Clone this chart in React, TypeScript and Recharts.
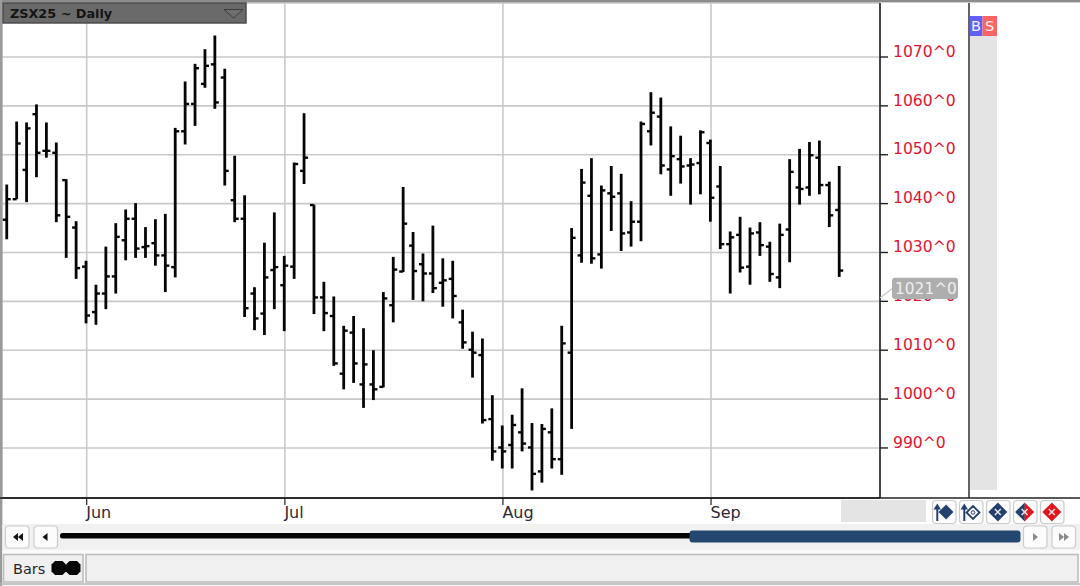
import React from "react";
import { ComposedChart, Bar, XAxis, YAxis, CartesianGrid } from "recharts";

const opens = [1036.7,1040.9,1046.9,1058.3,1050.8,1050.4,1044.8,1035.1,1027.1,1017.8,1021.6,1025.1,1032.5,1036.9,1031.1,1031.9,1029.4,1027,1054.8,1060.4,1064.5,1068.5,1065.8,1040.7,1036.9,1021.6,1017.5,1026.4,1023.3,1027.1,1046.7,1039.7,1020.8,1017,1005.2,1013.6,1003,1003,1002.5,1019.2,1026.1,1031.4,1027.6,1025.7,1023.8,1024.6,1015.7,1010.1,1009,995.9,990.1,990.6,993.2,990.1,985.2,993.2,987.7,1009.5,1029.4,1041.6,1029.6,1042.1,1042.1,1034.1,1036.3,1054.8,1057.8,1047,1049.1,1047.8,1048.3,1052.4,1043.5,1031.7,1033.6,1027.1,1034.1,1031.2,1024.9,1034.7,1043.3,1043.3,1049.4,1043.8,1038.7];
const highs = [1043.9,1056.8,1056.6,1060.3,1056.6,1052.5,1045,1036.4,1028.3,1023.4,1031.2,1036,1038.8,1040.1,1035.2,1036.8,1037.9,1055.5,1065,1068.6,1071.6,1074.4,1067.6,1049.8,1041.7,1022.9,1032,1038.2,1029.3,1048.4,1058.5,1039.8,1024,1021,1015,1017,1014.5,1010,1021.9,1029.1,1043.4,1034.2,1029.8,1035.5,1028.8,1028.3,1018.3,1013.8,1012.4,1000.8,994.6,996.8,1002.2,995.1,994.9,998.1,1015,1035,1047.1,1049.3,1043.7,1047.7,1046.1,1040.5,1056.8,1062.8,1061.7,1055.8,1053.9,1049.3,1055,1053.1,1047.7,1034.3,1037.3,1035.1,1036.2,1032.2,1035.9,1049.1,1051.2,1052.6,1052.9,1044.5,1047.7];
const lows = [1032.7,1040.9,1040.3,1045.4,1049.4,1036.2,1028.9,1024.6,1015.5,1015.2,1018.4,1021.6,1028.4,1028.9,1028.9,1027.3,1021.9,1024.9,1052.1,1055.9,1063.7,1059.4,1043.7,1036.2,1016.8,1014.1,1013.1,1018.4,1013.9,1024.6,1044,1017.4,1013.9,1006.8,1002,1003.3,998.2,999.8,1002.4,1015.7,1026,1020.3,1020,1021.7,1018.9,1016.5,1010.3,1004.4,995,987.4,985.8,985.8,989.3,981.3,982.9,985.8,984.5,993.9,1027.9,1027.7,1026.7,1034.4,1030.3,1031.2,1032.3,1051.9,1046,1041.6,1044.1,1039.8,1041.9,1036.3,1030.7,1021.6,1025.9,1023.4,1029.3,1024,1022.7,1028,1039.8,1041.6,1041.9,1035.2,1025];
const closes = [1040.9,1052.3,1055.4,1050.4,1050.8,1037.6,1037.3,1026.8,1017.1,1021.6,1025.1,1033.2,1036.9,1030.8,1031.3,1029.4,1027.3,1054.8,1060.4,1067.7,1068.2,1060.7,1046.7,1036.9,1018.6,1016.5,1024.9,1027,1027.3,1048.1,1049.4,1020.8,1017.6,1007.3,1014,1007.3,1007.1,1002,1020.6,1026.5,1035.9,1026.2,1025.7,1022.7,1024.3,1021.1,1011.6,1009.5,995.7,989.3,989.3,994.7,990.9,984.7,993.9,987.7,1011.4,1033,1044.3,1028.8,1042.7,1041.4,1033.9,1036.3,1056.3,1058.6,1047.8,1049.7,1047.6,1048,1054.6,1041.2,1031.7,1033.1,1026.9,1033.9,1031.5,1025.6,1033.6,1046.5,1043,1049.9,1043.8,1037.6,1026.3];
const monthTicks = [8, 28, 50, 71];
const monthLabels = ["Jun", "Jul", "Aug", "Sep"];
const priceTicks = [990, 1000, 1010, 1020, 1030, 1040, 1050, 1060, 1070];
const lastPrice = "1021^0";
const title = "ZSX25 ~ Daily";

const rows = opens.map((open, index) => ({ index, open, high: highs[index], low: lows[index], close: closes[index] }));
const FONT = "'DejaVu Sans', sans-serif";

function OhlcShape(props: any) {
  const { x, y, width, height, payload } = props;
  const top = Math.min(y, y + height);
  const span = Math.abs(height);
  const k = span / (payload.high - payload.low);
  const cx = x + width / 2 - 0.7;
  const oy = top + (payload.high - payload.open) * k;
  const cy = top + (payload.high - payload.close) * k;
  return (
    <g>
      <line x1={cx} x2={cx} y1={top} y2={top + span} stroke="#050505" strokeWidth={2.8} />
      <line x1={cx - 4} x2={cx} y1={oy} y2={oy} stroke="#050505" strokeWidth={2.4} />
      <line x1={cx} x2={cx + 4} y1={cy} y2={cy} stroke="#050505" strokeWidth={2.4} />
    </g>
  );
}

function MonthTick(props: any) {
  const { x, index } = props;
  return (
    <g>
      <line x1={x} x2={x} y1={498} y2={505} stroke="#333" strokeWidth={1.3} />
      <text x={x - 0.5} y={518} fontFamily={FONT} fontSize={16} fill="#2a2a33">{monthLabels[index]}</text>
    </g>
  );
}

function PriceTick(props: any) {
  const { x, y, payload } = props;
  return (
    <text x={x} y={y - 0.3} fontFamily={FONT} fontSize={15.6} fill="#e3142f">{`${payload.value}^0`}</text>
  );
}

function Btn({ x, y, w, h }: any) {
  return <rect x={x} y={y} width={w} height={h} rx={3.5} fill="#fcfcfc" stroke="#cbcbcb" strokeWidth={1.2} />;
}

function Diamond({ cx, cy, r, left, right, cross }: any) {
  return (
    <g>
      <path d={`M${cx + 0.2} ${cy - r}L${cx + 0.2} ${cy + r}L${cx - r} ${cy}Z`} fill={left} />
      <path d={`M${cx} ${cy - r}L${cx} ${cy + r}L${cx + r} ${cy}Z`} fill={right} />
      {cross && <path d={`M${cx - 3} ${cy - 3}L${cx + 3} ${cy + 3}M${cx + 3} ${cy - 3}L${cx - 3} ${cy + 3}`} stroke="#e8e8e8" strokeWidth={1.5} />}
    </g>
  );
}

function Overlay() {
  const navy = "#24406e";
  const red = "#e2161c";
  return (
    <svg width={1080} height={586} style={{ position: "absolute", left: 0, top: 0 }}>
      {/* frame */}
      <rect x={0} y={0} width={1080} height={2.4} fill="#8c8c8c" />
      <rect x={0} y={0} width={2.4} height={586} fill="#9a9a9a" />
      <line x1={0} x2={1080} y1={498} y2={498} stroke="#222" strokeWidth={1.4} />
      <line x1={969} x2={969} y1={3} y2={498} stroke="#222" strokeWidth={1.4} />
      {/* title */}
      <rect x={3} y={3} width={243} height={20} fill="#626262" fillOpacity={0.95} stroke="#474747" strokeWidth={1.4} />
      <text x={10} y={18} fontFamily={FONT} fontWeight={700} fontSize={12.8} fill="#141414">{title}</text>
      <path d="M224 9.5H243L233.5 18Z" fill="#6e6e6e" stroke="#3c3c3c" strokeWidth={1} />
      {/* B/S panel */}
      <rect x={970} y={36} width={27} height={454} fill="#e4e4e4" />
      <rect x={970} y={16} width={12.5} height={20} fill="#6060f8" />
      <rect x={982.5} y={16} width={14.5} height={20} fill="#fb6464" />
      <text x={976} y={31} textAnchor="middle" fontFamily={FONT} fontSize={14.5} fill="#f4f4ff">B</text>
      <text x={989.5} y={31} textAnchor="middle" fontFamily={FONT} fontSize={14.5} fill="#fff4f4">S</text>
      {/* last price */}
      <line x1={880} x2={893} y1={298} y2={288} stroke="#c8c8c8" strokeWidth={1.2} />
      <rect x={892} y={277.7} width={66} height={21.3} rx={3} fill="#aeaeae" />
      <text x={895} y={294} fontFamily={FONT} fontSize={15.4} fill="#efefef">{lastPrice}</text>
      {/* bottom toolbar */}
      <rect x={841} y={500} width={85} height={22} fill="#e4e4e4" />
      {[932.5, 959.5, 986.5, 1013.5, 1040.5].map((x) => <Btn key={x} x={x} y={500.5} w={23.5} h={23} />)}
      <path d="M937.3 508V521" stroke={navy} strokeWidth={2} />
      <path d="M933.5 509.5L937.3 503.5L941 509.5Z" fill={navy} />
      <Diamond cx={946} cy={512} r={7.5} left={navy} right={navy} />
      <path d="M964.3 508V521" stroke={navy} strokeWidth={2} />
      <path d="M960.5 509.5L964.3 503.5L968 509.5Z" fill={navy} />
      <path d="M973 506L979.5 512.5L973 519L966.5 512.5Z" fill="#fcfcfc" stroke={navy} strokeWidth={1.8} />
      <circle cx={973} cy={512.5} r={1.8} fill="none" stroke={navy} strokeWidth={1} />
      <Diamond cx={997.8} cy={512} r={9.5} left={navy} right={navy} cross />
      <Diamond cx={1024.6} cy={512} r={9.5} left={navy} right={red} cross />
      <Diamond cx={1051.8} cy={512} r={9.5} left={red} right={red} cross />
      {/* scroll row */}
      <rect x={2.4} y={524} width={1077.6} height={26} fill="#f1f1f1" />
      <Btn x={5.5} y={526} w={23.5} h={22} />
      <Btn x={34} y={526} w={23.5} h={22} />
      <path d="M18 533L13 537L18 541ZM23 533L18 537L23 541Z" fill="#111" />
      <path d="M47.5 533L42.5 537L47.5 541Z" fill="#111" />
      <rect x={60} y={533} width={632} height={5.5} rx={2.5} fill="#050505" />
      <rect x={689.5} y={530.5} width={331} height={12} rx={3} fill="#24476f" />
      <Btn x={1023.5} y={526} w={23.5} h={22} />
      <Btn x={1052} y={526} w={23.5} h={22} />
      <path d="M1033 533L1038 537L1033 541Z" fill="#8a8a8a" />
      <path d="M1059 533L1064 537L1059 541ZM1064 533L1069 537L1064 541Z" fill="#8a8a8a" />
      {/* status row */}
      <rect x={2.4} y={550} width={1077.6} height={36} fill="#fbfbfb" />
      <rect x={3.5} y={554.5} width={79.5} height={27.5} fill="#f0f0f0" stroke="#bdbdbd" strokeWidth={1.6} />
      <rect x={86} y={554.5} width={992} height={27.5} fill="#f0f0f0" stroke="#bdbdbd" strokeWidth={1.6} />
      <line x1={0} x2={1080} y1={584} y2={584} stroke="#b4b4b4" strokeWidth={1.4} />
      <text x={13} y={574} fontFamily={FONT} fontSize={14.5} fill="#26262e">Bars</text>
      <path d="M55 561H62.5L66 564.5V571.5L62.5 575H55L51.5 571.5V564.5Z" fill="#050505" />
      <path d="M69.5 561H77L80.5 564.5V571.5L77 575H69.5L66 571.5V564.5Z" fill="#050505" />
    </svg>
  );
}

export default function App() {
  return (
    <div style={{ position: "absolute", left: 0, top: 0, width: 1080, height: 586, background: "#fff", overflow: "hidden" }}>
      <ComposedChart width={1080} height={586} data={rows} margin={{ top: 3, right: 111, bottom: 58, left: 2 }} barCategoryGap={0}>
        <CartesianGrid stroke="#c9c9c9" strokeWidth={1.6} />
        <XAxis
          dataKey="index"
          type="number"
          domain={[-0.545, 88.05]}
          allowDataOverflow
          ticks={monthTicks}
          interval={0}
          height={30}
          tick={<MonthTick />}
          tickLine={false}
          axisLine={{ stroke: "#222", strokeWidth: 1.4 }}
        />
        <YAxis
          orientation="right"
          type="number"
          domain={[979.76, 1081.05]}
          allowDataOverflow
          ticks={priceTicks}
          interval={0}
          width={89}
          tickSize={8}
          tickMargin={5}
          tick={<PriceTick />}
          tickLine={{ stroke: "#222", strokeWidth: 1.4 }}
          axisLine={{ stroke: "#222", strokeWidth: 1.6 }}
        />
        <Bar dataKey={(d: any) => [d.low, d.high]} barSize={8} shape={<OhlcShape />} isAnimationActive={false} />
      </ComposedChart>
      <Overlay />
    </div>
  );
}
